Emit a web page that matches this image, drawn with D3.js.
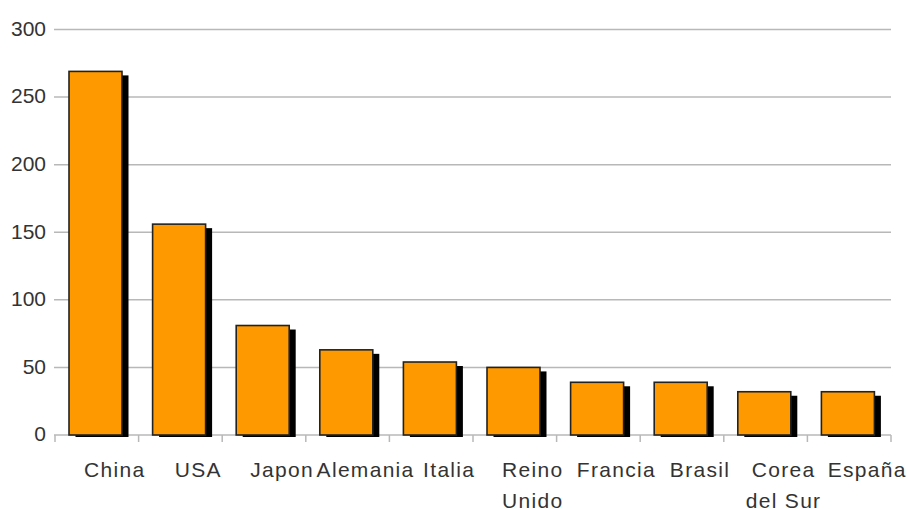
<!DOCTYPE html>
<html>
<head>
<meta charset="utf-8">
<script src="https://cdn.jsdelivr.net/npm/d3@7"></script>
<style>
  body { margin: 0; background: #fff; }
  text { font-family: "Liberation Sans", Arial, sans-serif; fill: #333; }
</style>
</head>
<body>
<div id="chart"></div>
<script>
// data
var paises = ["China", "USA", "Japon", "Alemania", "Italia", "Reino Unido", "Francia", "Brasil", "Corea del Sur", "España"]
var etiquetas = [["China"], ["USA"], ["Japon"], ["Alemania"], ["Italia"], ["Reino", "Unido"], ["Francia"], ["Brasil"], ["Corea", "del Sur"], ["España"]]
var valores = [269, 156, 81, 63, 54, 50, 39, 39, 32, 32]
var ticksY = [0, 50, 100, 150, 200, 250, 300]

var width = 908, height = 510
var plotLeft = 55, plotRight = 891, plotTop = 29.5, plotBottom = 435

var svg = d3.select("#chart").append("svg")
    .attr("width", width)
    .attr("height", height)

var x = d3.scaleBand().domain(paises).range([plotLeft, plotRight]).padding(0)
var y = d3.scaleLinear().domain([0, 300]).range([plotBottom, plotTop])

// grid lines
svg.append("g").selectAll("line")
    .data(ticksY)
    .enter().append("line")
    .attr("x1", plotLeft - 1).attr("x2", plotRight)
    .attr("y1", d => y(d)).attr("y2", d => y(d))
    .style("stroke", "#b8b8b8")
    .style("stroke-width", 1.5)

// y labels
svg.append("g").selectAll("text")
    .data(ticksY)
    .enter().append("text")
    .attr("x", 46)
    .attr("y", d => y(d) - 1)
    .attr("dy", "0.35em")
    .attr("text-anchor", "end")
    .style("font-size", "21px")
    .text(d => d)

// category ticks under the zero line
var bordes = paises.map(d => x(d)).concat([x(paises[paises.length - 1]) + x.bandwidth()])
svg.append("g").selectAll("line")
    .data(bordes)
    .enter().append("line")
    .attr("x1", d => d).attr("x2", d => d)
    .attr("y1", plotBottom).attr("y2", plotBottom + 7)
    .style("stroke", "#b8b8b8")
    .style("stroke-width", 1.5)

var off = 14, bw = 53

// shadows
svg.append("g").selectAll("rect")
    .data(valores)
    .enter().append("rect")
    .attr("x", (d, i) => x(paises[i]) + off + 6.5)
    .attr("y", d => y(d) + 4)
    .attr("width", bw)
    .attr("height", d => plotBottom + 2 - (y(d) + 4))
    .style("fill", "#000")

// bars
svg.append("g").selectAll("rect")
    .data(valores)
    .enter().append("rect")
    .attr("x", (d, i) => x(paises[i]) + off)
    .attr("y", d => y(d))
    .attr("width", bw)
    .attr("height", d => plotBottom - y(d))
    .style("fill", "#ff9900")
    .style("stroke", "#222")
    .style("stroke-width", 1.6)

// category labels
var lab = svg.append("g").selectAll("text")
    .data(etiquetas)
    .enter().append("text")
    .attr("x", (d, i) => x(paises[i]) + x.bandwidth() / 2 + 18)
    .attr("y", 477)
    .attr("text-anchor", "middle")
    .style("font-size", "21px")
    .style("letter-spacing", "1.3px")

lab.selectAll("tspan")
    .data(d => d)
    .enter().append("tspan")
    .attr("x", function(){ return d3.select(this.parentNode).attr("x") })
    .attr("dy", (d, i) => i == 0 ? 0 : 31)
    .text(d => d)
</script>
</body>
</html>
